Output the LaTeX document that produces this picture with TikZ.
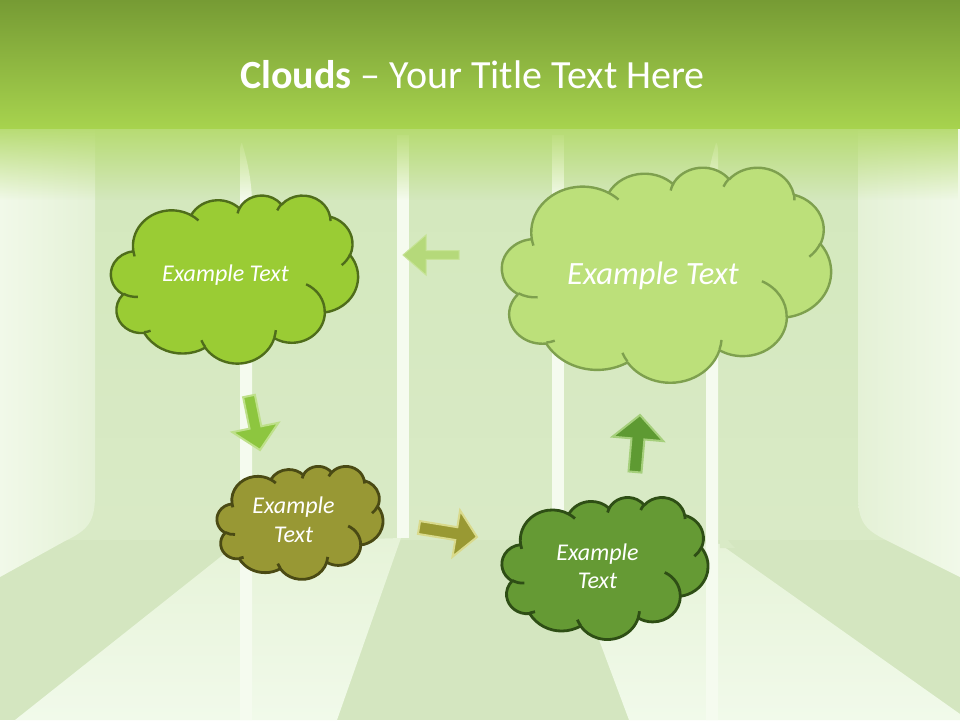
\documentclass[tikz,border=0pt]{standalone}
\usepackage{fontspec}
\setmainfont{Carlito}
\usetikzlibrary{calc,fadings}

\definecolor{topA}{HTML}{769B34}
\definecolor{topB}{HTML}{A7D34E}
\definecolor{panelT}{HTML}{D3E8BC}
\definecolor{panelB}{HTML}{D9EAC6}
\definecolor{wallL}{HTML}{F1F9E9}
\definecolor{wallR}{HTML}{E4F1D6}
\definecolor{floorM}{HTML}{D4E6C0}
\definecolor{floorBt}{HTML}{E6F3D8}
\definecolor{floorBb}{HTML}{F1FAEA}
\definecolor{stripe}{HTML}{F5FBEF}
\definecolor{fadeC}{HTML}{B6DB70}
\definecolor{cAfill}{HTML}{9ACC34}
\definecolor{cAline}{HTML}{4F6D1B}
\definecolor{cBfill}{HTML}{989834}
\definecolor{cBline}{HTML}{4A4A14}
\definecolor{cCfill}{HTML}{659A34}
\definecolor{cCline}{HTML}{2E4E15}
\definecolor{cDfill}{HTML}{BCE07A}
\definecolor{cDline}{HTML}{7EA04E}
\definecolor{arLfill}{HTML}{B5D97A}
\definecolor{arLline}{HTML}{C6E396}
\definecolor{arDfill}{HTML}{8DC63F}
\definecolor{arDline}{HTML}{BEE08A}
\definecolor{arRfill}{HTML}{999933}
\definecolor{arRline}{HTML}{D9DA8C}
\definecolor{arUfill}{HTML}{5E9A32}
\definecolor{arUline}{HTML}{A5CF7B}

\tikzfading[name=topfade, top color=transparent!0, bottom color=transparent!100]

% convert an OOXML arcTo (visual angles) to parametric TikZ angles
\newcommand\pptconv[6]{%
  \edef\pptS{\fpeval{atand((#3)*sind(#5),(#4)*cosd(#5))}}%
  \edef\pptE{\fpeval{atand((#3)*sind((#5)+(#6)),(#4)*cosd((#5)+(#6)))}}%
  \xdef#1{\fpeval{round(\pptS,4)}}%
  \xdef#2{\fpeval{round((\pptE-\pptS)-360*floor((\pptE-\pptS)/360),4)}}%
}
\pptconv\qsA\qdA{156.319}{212.731}{-190.4875}{123.7805}
\pptconv\qsB\qdB{123.449}{168.218}{-144.1024}{89.9452}
\pptconv\qsC\qdC{101.042}{137.616}{-145.8079}{99.7230}
\pptconv\qsD\qdD{112.431}{152.662}{-130.9861}{117.2417}
\pptconv\qsE\qdE{123.449}{168.356}{-78.7089}{109.0269}
\pptconv\qsF\qdF{156.829}{213.426}{-46.2673}{130.2690}
\pptconv\qsG\qdG{133.912}{182.106}{0.6250}{114.0333}
\pptconv\qsH\qdH{156.296}{213.310}{22.4516}{115.1726}
\pptconv\qsI\qdI{178.704}{244.051}{66.2426}{75.7110}
\pptconv\qsJ\qdJ{100.926}{136.991}{-274.9421}{146.7356}
\pptconv\qsK\qdK{100.579}{137.616}{-246.8285}{152.5189}
\pptconv\qsa\qda{100.579}{137.616}{86.742}{26.4295}
\pptconv\qsb\qdb{100.926}{136.991}{73.6105}{11.4475}
\pptconv\qsc\qdc{156.296}{213.310}{137.6242}{14.0811}
\pptconv\qsd\qdd{156.296}{213.310}{6.4533}{15.9984}
\pptconv\qse\qde{133.912}{182.106}{-70.2924}{70.9174}
\pptconv\qsf\qdf{123.449}{168.356}{30.318}{27.7515}
\pptconv\qsg\qdg{112.431}{152.662}{-13.7443}{14.8589}
\pptconv\qsh\qdh{112.431}{152.662}{-149.1815}{18.1954}
\pptconv\qsi\qdi{101.042}{137.616}{-163.4943}{17.6864}
\pptconv\qsj\qdj{156.319}{212.731}{-66.707}{12.3194}
\pptconv\qsk\qdk{156.319}{212.731}{157.6544}{11.8539}

\def\cloudmainpath{(90.278,332.639)
 arc[start angle=\qsA,delta angle=\qdA,x radius=156.319,y radius=212.731]
 arc[start angle=\qsB,delta angle=\qdB,x radius=123.449,y radius=168.218]
 arc[start angle=\qsC,delta angle=\qdC,x radius=101.042,y radius=137.616]
 arc[start angle=\qsD,delta angle=\qdD,x radius=112.431,y radius=152.662]
 arc[start angle=\qsE,delta angle=\qdE,x radius=123.449,y radius=168.356]
 arc[start angle=\qsF,delta angle=\qdF,x radius=156.829,y radius=213.426]
 arc[start angle=\qsG,delta angle=\qdG,x radius=133.912,y radius=182.106]
 arc[start angle=\qsH,delta angle=\qdH,x radius=156.296,y radius=213.310]
 arc[start angle=\qsI,delta angle=\qdI,x radius=178.704,y radius=244.051]
 arc[start angle=\qsJ,delta angle=\qdJ,x radius=100.926,y radius=136.991]
 arc[start angle=\qsK,delta angle=\qdK,x radius=100.579,y radius=137.616]
 -- cycle}
\def\cloudinnerpath{
 (108.634,605.949) arc[start angle=\qsa,delta angle=\qda,x radius=100.579,y radius=137.616]
 (160.370,807.847) arc[start angle=\qsb,delta angle=\qdb,x radius=100.926,y radius=136.991]
 (381.435,904.861) arc[start angle=\qsc,delta angle=\qdc,x radius=156.296,y radius=213.310]
 (667.292,804.421) arc[start angle=\qsd,delta angle=\qdd,x radius=156.296,y radius=213.310]
 (790.023,531.343) arc[start angle=\qse,delta angle=\qde,x radius=133.912,y radius=182.106]
 (967.546,355.417) arc[start angle=\qsf,delta angle=\qdf,x radius=123.449,y radius=168.356]
 (887.130,125.602) arc[start angle=\qsg,delta angle=\qdg,x radius=112.431,y radius=152.662]
 (673.102,91.481) arc[start angle=\qsh,delta angle=\qdh,x radius=112.431,y radius=152.662]
 (512.523,109.259) arc[start angle=\qsi,delta angle=\qdi,x radius=101.042,y radius=137.616]
 (324.074,120.185) arc[start angle=\qsj,delta angle=\qdj,x radius=156.319,y radius=212.731]
 (95.532,365.486) arc[start angle=\qsk,delta angle=\qdk,x radius=156.319,y radius=212.731]}

\newcommand\pptcloud[5]{%
  \begin{scope}[shift={(#1,#2)},x=#3pt,y=-#4pt]
    \path[#5] \cloudmainpath;
    \path[#5,fill=none] \cloudinnerpath;
  \end{scope}}

\newcommand\blockarrow[6]{%
  \coordinate (#1-h) at ($(#2)!#5!(#1)$);
  \path[#6] ($(#1)!#3!90:(#2)$) -- ($(#1-h)!#3!-90:(#1)$) -- ($(#1-h)!#4!-90:(#1)$) -- (#2)
     -- ($(#1-h)!#4!90:(#1)$) -- ($(#1-h)!#3!90:(#1)$) -- ($(#1)!#3!-90:(#2)$) -- cycle;}

\tikzset{
  cloudA/.style={fill=cAfill,draw=cAline,line width=2.4pt,line join=round},
  cloudB/.style={fill=cBfill,draw=cBline,line width=2.8pt,line join=round},
  cloudC/.style={fill=cCfill,draw=cCline,line width=2.8pt,line join=round},
  cloudD/.style={fill=cDfill,draw=cDline,line width=2.4pt,line join=round},
  ctext/.style={text=white,font=\fontsize{24}{28.5}\selectfont\itshape,inner sep=0pt,align=center},
  ctextbig/.style={text=white,font=\fontsize{32.5}{38}\selectfont\itshape,inner sep=0pt},
  stripebox/.style={fill=stripe},
}

\begin{document}
\begin{tikzpicture}[x=1pt,y=-1pt]
\useasboundingbox (0,0) rectangle (960,720);
% ---------- background ----------
\shade[top color=panelT,bottom color=panelB] (0,128) rectangle (960,540);
\fill[floorM] (0,540) rectangle (960,720);
% bright floor wedges
\shade[top color=floorBt,bottom color=floorBb] (238,543) -- (401,538) -- (337,720) -- (15,720) -- cycle;
\shade[top color=floorBt,bottom color=floorBb] (561,538) -- (720,544) -- (960,714) -- (960,720) -- (629,720) -- cycle;
% outer walls
\shade[left color=wallL,right color=wallR] (0,128) -- (95,128) -- (95,495)
   .. controls (95,522) and (88,530) .. (65,541) -- (0,577) -- cycle;
\shade[left color=wallR,right color=wallL] (960,128) -- (858,128) -- (858,495)
   .. controls (858,522) and (865,530) .. (888,541) -- (960,577) -- cycle;
% inner panel corner on the right
\fill[panelB] (718,500) .. controls (718,525) and (722,535) .. (735,548) -- (720,548) -- cycle;
% white stripes
\fill[stripebox] (240,720) -- (240,152) .. controls (240,146) and (241,143) .. (242,143)
   .. controls (247,160) and (252,180) .. (252,205) -- (252,720) -- cycle;
\fill[stripebox] (397,135) rectangle (409,538);
\fill[stripebox] (552,135) rectangle (564,538);
\fill[stripebox] (718,720) -- (718,152) .. controls (718,146) and (717,143) .. (716,143)
   .. controls (711,160) and (706,180) .. (706,205) -- (706,720) -- cycle;
% top band and its fade
\fill[fadeC,path fading=topfade] (0,126) rectangle (960,200);
\shade[top color=topA,bottom color=topB] (0,0) rectangle (960,128);
\node[text=white,font=\fontsize{40}{48}\selectfont,anchor=base,inner sep=0pt] (title) at (472.5,88.5)
   {\textbf{Clouds} – Your Title Text Here};

% ---------- arrows ----------
\coordinate (a1) at (459,255);  \coordinate (a1tip) at (403,255);
\coordinate (a2) at (249,396);  \coordinate (a2tip) at (260,450);
\coordinate (a3) at (419,527.5);\coordinate (a3tip) at (477,537);
\coordinate (a4) at (635,472);  \coordinate (a4tip) at (640,415);
\blockarrow{a1}{a1tip}{4.3pt}{20pt}{23pt}{fill=arLfill,draw=arLline,line width=1pt}
\blockarrow{a2}{a2tip}{6pt}{23.5pt}{23pt}{fill=arDfill,draw=arDline,line width=2pt}
\blockarrow{a3}{a3tip}{6.5pt}{23.5pt}{21pt}{fill=arRfill,draw=arRline,line width=2pt}
\blockarrow{a4}{a4tip}{6.5pt}{25.5pt}{24pt}{fill=arUfill,draw=arUline,line width=2pt}

% ---------- clouds ----------
\pptcloud{111}{195}{0.247}{0.168}{cloudA}
\pptcloud{217}{466}{0.166}{0.113}{cloudB}
\pptcloud{502}{497}{0.206}{0.142}{cloudC}
\pptcloud{502}{167}{0.329}{0.215}{cloudD}

\node[ctext,anchor=base] (cloudAtext) at (225.5,281.7) {Example Text};
\node[ctext] (cloudBtext) at (293.5,519.5) {Example\\Text};
\node[ctext] (cloudCtext) at (597.5,566) {Example\\Text};
\node[ctextbig,anchor=base] (cloudDtext) at (653,284) {Example Text};
\end{tikzpicture}
\end{document}
